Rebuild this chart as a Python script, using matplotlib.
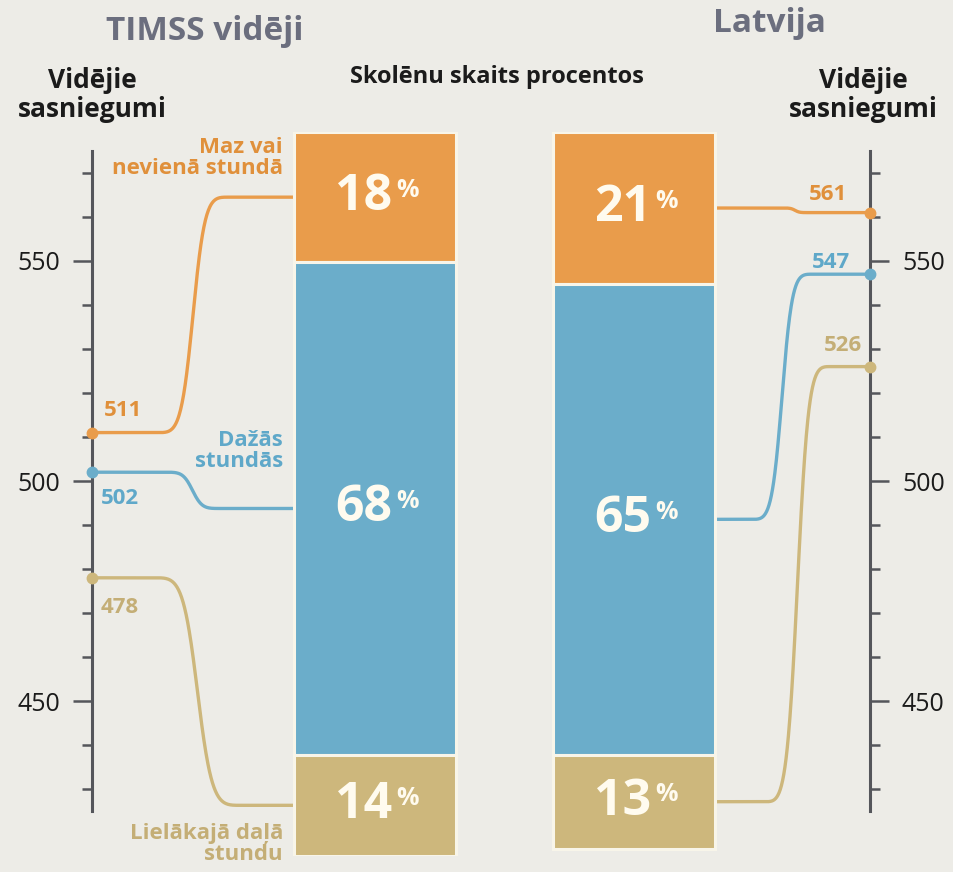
import numpy as np
import matplotlib
matplotlib.use("Agg")
import matplotlib.pyplot as plt

# data
groups = ["TIMSS vidēji", "Latvija"]
categories = ["Maz vai\nnevienā stundā", "Dažās\nstundās", "Lielākajā daļā\nstundu"]
timss_pct = [18, 68, 14]
latvia_pct = [21, 65, 13]
timss_score = [511, 502, 478]
latvia_score = [561, 547, 526]
major_ticks = [450, 500, 550]
minor_ticks = [430, 440, 460, 470, 480, 490, 510, 520, 530, 540, 560, 570]

# styling
W, H = 954, 872
bg = "#edece7"
colors = ["#e99c4b", "#6badca", "#cdb77c"]
text_colors = ["#e0903b", "#5fa8c9", "#c4ae76"]
axis_col = "#55565b"
plt.rcParams["font.family"] = ["Open Sans", "DejaVu Sans"]

# layout in pixels
left_axis_x, right_axis_x = 92, 870
bar_x = [375, 634]
bar_w = 162
bar_top_px, bar_bot_px = 132, 856
# x ranges where each connector bends (left side, right side)
bend_left = [(158, 228), (165, 220), (155, 240)]
bend_right = [(782, 808), (752, 812), (765, 830)]


def px2score(ypx):
    return 550 - (ypx - 261) / 4.4


fig = plt.figure(figsize=(W / 100, H / 100), dpi=100, facecolor=bg)
ax = fig.add_axes([0, 0, 1, 1])
ax.set_xlim(0, W)
ax.set_ylim(px2score(H), px2score(0))
ax.patch.set_visible(False)

bax = fig.add_axes([0, 1 - bar_bot_px / H, 1, (bar_bot_px - bar_top_px) / H])
bax.set_xlim(0, W)
bax.set_ylim(100, 0)
bax.axis("off")
bax.patch.set_visible(False)

# score axes (left + right spine share the y scale)
for s in ["top", "bottom"]:
    ax.spines[s].set_visible(False)
ax.spines["left"].set_position(("data", left_axis_x))
ax.spines["right"].set_position(("data", right_axis_x))
for s in ["left", "right"]:
    ax.spines[s].set_bounds(425, 575)
    ax.spines[s].set_color(axis_col)
    ax.spines[s].set_linewidth(2.2)
ax.set_xticks([])
ax.set_yticks(major_ticks)
ax.set_yticks(minor_ticks, minor=True)
ax.tick_params(axis="y", which="both", left=True, right=True, labelleft=True,
               labelright=True, direction="out", color=axis_col, width=1.8)
ax.tick_params(axis="y", which="major", length=14, pad=9, labelsize=18,
               labelcolor="#1b1b1b")
ax.tick_params(axis="y", which="minor", length=7)

# stacked bars
for xc, pcts in [(bar_x[0], timss_pct), (bar_x[1], latvia_pct)]:
    bottoms = np.concatenate([[0], np.cumsum(pcts)[:-1]])
    bax.bar([xc] * 3, pcts, bottom=bottoms, width=bar_w, color=colors,
            edgecolor="#f8f5e9", linewidth=2.2)
    for p, b in zip(pcts, bottoms):
        mid = b + p / 2
        bax.annotate(str(p), (xc, mid), xytext=(-8, 0), textcoords="offset points",
                     ha="center", va="center", color="#fffbef", fontsize=36,
                     fontweight="bold")
        bax.annotate("%", (xc, mid), xytext=(15, 14), textcoords="offset points",
                     ha="left", va="top", color="#fffbef", fontsize=18,
                     fontweight="bold")


def connector(x0, y0, x1, y1, a, b):
    xs = np.linspace(x0, x1, 400)
    t = np.clip((xs - a) / (b - a), 0, 1)
    s = t ** 3 / (t ** 3 + (1 - t) ** 3)
    return xs, y0 + (y1 - y0) * s


for i in range(3):
    # middle of each segment, moved from the bar scale into the score scale
    for xc, pcts, scores, axis_x, bends, edge in [
        (bar_x[0], timss_pct, timss_score, left_axis_x, bend_left, bar_x[0] - bar_w / 2),
        (bar_x[1], latvia_pct, latvia_score, right_axis_x, bend_right, bar_x[1] + bar_w / 2),
    ]:
        mid = sum(pcts[:i]) + pcts[i] / 2
        disp = bax.transData.transform((xc, mid))
        y_bar = ax.transData.inverted().transform(disp)[1]
        xs, ys = connector(axis_x, scores[i], edge, y_bar, *bends[i]) if axis_x < edge \
            else connector(edge, y_bar, axis_x, scores[i], *bends[i])
        ax.plot(xs, ys, color=colors[i], lw=2.4, solid_capstyle="butt", zorder=3)
        ax.plot(axis_x, scores[i], "o", ms=7.5, color=colors[i], zorder=5, clip_on=False)

# value labels beside the dots (offsets in px)
left_off = [(12, 22), (9, -26), (9, -30)]
right_off = [(-23, 18), (-20, 12), (-8, 21)]
for i in range(3):
    dx, dy = left_off[i]
    ax.annotate(str(timss_score[i]), (left_axis_x, timss_score[i]),
                xytext=(dx * 0.72, dy * 0.72), textcoords="offset points",
                ha="left", va="center", color=text_colors[i], fontsize=16,
                fontweight="bold")
    dx, dy = right_off[i]
    ax.annotate(str(latvia_score[i]), (right_axis_x, latvia_score[i]),
                xytext=(dx * 0.72, dy * 0.72), textcoords="offset points",
                ha="right", va="center", color=text_colors[i], fontsize=16,
                fontweight="bold")


def ftext(x, y, s, **kw):
    fig.text(x / W, 1 - y / H, s, **kw)


# category labels
cat_pos = [(283, 158), (283, 451), (283, 844)]
for i, (x, y) in enumerate(cat_pos):
    ftext(x, y, categories[i], ha="right", va="center", color=text_colors[i],
          fontsize=16, fontweight="bold", linespacing=1.0)

# headers
ftext(205, 31, groups[0], ha="center", va="center", color="#6b6e7e",
      fontsize=24, fontweight="bold")
ftext(769, 24, groups[1], ha="center", va="center", color="#6b6e7e",
      fontsize=24, fontweight="bold")
ftext(92, 95, "Vidējie\nsasniegumi", ha="center", va="center", color="#1b1b1b",
      fontsize=19, fontweight="bold", linespacing=1.05)
ftext(863, 95, "Vidējie\nsasniegumi", ha="center", va="center", color="#1b1b1b",
      fontsize=19, fontweight="bold", linespacing=1.05)
ftext(497, 77, "Skolēnu skaits procentos", ha="center", va="center",
      color="#1b1b1b", fontsize=17, fontweight="bold")

fig.savefig("out.png", dpi=100, facecolor=bg)
